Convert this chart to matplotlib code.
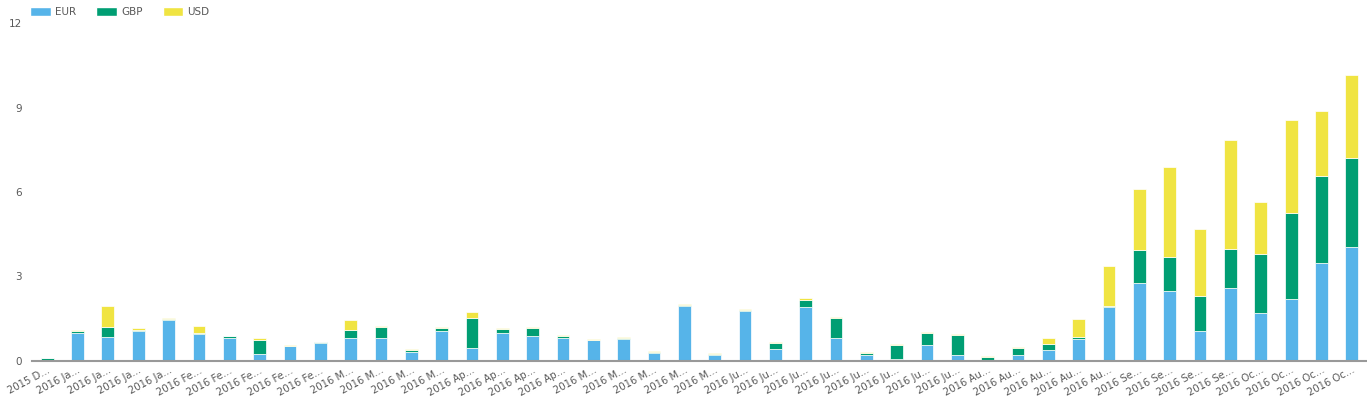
import numpy as np
import matplotlib
matplotlib.use("Agg")
import matplotlib.pyplot as plt
from matplotlib.patches import Patch

# ---- data (weekly totals per currency) ----
labels = (["2015 D..."] + ["2016 Ja..."] * 4 + ["2016 Fe..."] * 5 + ["2016 M..."] * 4
          + ["2016 Ap..."] * 4 + ["2016 M..."] * 5 + ["2016 Ju..."] * 8
          + ["2016 Au..."] * 5 + ["2016 Se..."] * 4 + ["2016 Oc..."] * 4)

eur = [0.05, 1.00, 0.85, 1.07, 1.44, 0.95, 0.82, 0.26, 0.52, 0.63,
       0.82, 0.82, 0.32, 1.08, 0.46, 1.00, 0.90, 0.83, 0.73, 0.77,
       0.30, 1.95, 0.21, 1.77, 0.41, 1.90, 0.80, 0.22, 0.07, 0.58,
       0.22, 0.05, 0.23, 0.38, 0.79, 1.92, 2.77, 2.47, 1.05, 2.60,
       1.71, 2.19, 3.48, 4.03]
gbp = [0.04, 0.06, 0.36, 0.03, 0.05, 0.05, 0.05, 0.50, 0.03, 0.04,
       0.27, 0.38, 0.06, 0.09, 1.06, 0.12, 0.27, 0.06, 0.03, 0.05,
       0.03, 0.05, 0.04, 0.05, 0.24, 0.28, 0.72, 0.06, 0.50, 0.42,
       0.70, 0.10, 0.23, 0.23, 0.05, 0.04, 1.17, 1.24, 1.24, 1.38,
       2.08, 3.05, 3.09, 3.17]
usd = [0.02, 0.05, 0.74, 0.06, 0.03, 0.23, 0.02, 0.05, 0.03, 0.02,
       0.36, 0.04, 0.04, 0.03, 0.22, 0.04, 0.03, 0.03, 0.02, 0.02,
       0.02, 0.02, 0.04, 0.02, 0.04, 0.07, 0.03, 0.03, 0.04, 0.03,
       0.03, 0.03, 0.04, 0.20, 0.64, 1.43, 2.15, 3.16, 2.39, 3.87,
       1.86, 3.32, 2.31, 2.97]

series = ["EUR", "GBP", "USD"]
colors = ["#56B4E9", "#009E73", "#F0E442"]
text_col = "#595959"

x = np.arange(len(labels))
eur = np.array(eur); gbp = np.array(gbp); usd = np.array(usd)

fig = plt.figure(figsize=(13.67, 3.97), dpi=100)
ax = fig.add_axes([32 / 1367, 36 / 397, 1335 / 1367, 338 / 397])

w = 0.42
ax.bar(x, eur, w, color=colors[0], edgecolor="white", linewidth=0.5)
ax.bar(x, gbp, w, bottom=eur, color=colors[1], edgecolor="white", linewidth=0.5)
ax.bar(x, usd, w, bottom=eur + gbp, color=colors[2], edgecolor="white", linewidth=0.5)

ax.set_xlim(-0.5, len(labels) - 0.5)
ax.set_ylim(0, 12)
ax.set_yticks([0, 3, 6, 9, 12])
ax.tick_params(axis="y", length=0, pad=7, labelsize=7.5, labelcolor=text_col)
ax.set_xticks(x)
ax.set_xticklabels(labels, rotation=28, ha="right", rotation_mode="anchor")
ax.tick_params(axis="x", length=0, pad=3, labelsize=7.2, labelcolor=text_col)

for s in ["top", "right", "left"]:
    ax.spines[s].set_visible(False)
ax.spines["bottom"].set_color("#999999")
ax.spines["bottom"].set_linewidth(1.5)

handles = [Patch(facecolor=c, edgecolor="white", label=s) for s, c in zip(series, colors)]
fig.legend(handles=handles, loc="upper left", bbox_to_anchor=(21 / 1367, 1.005),
           ncol=3, frameon=False, fontsize=7.5, labelcolor=text_col,
           handlelength=2.0, handleheight=0.9, handletextpad=0.4, columnspacing=1.9)

fig.savefig("out.png", dpi=100)
